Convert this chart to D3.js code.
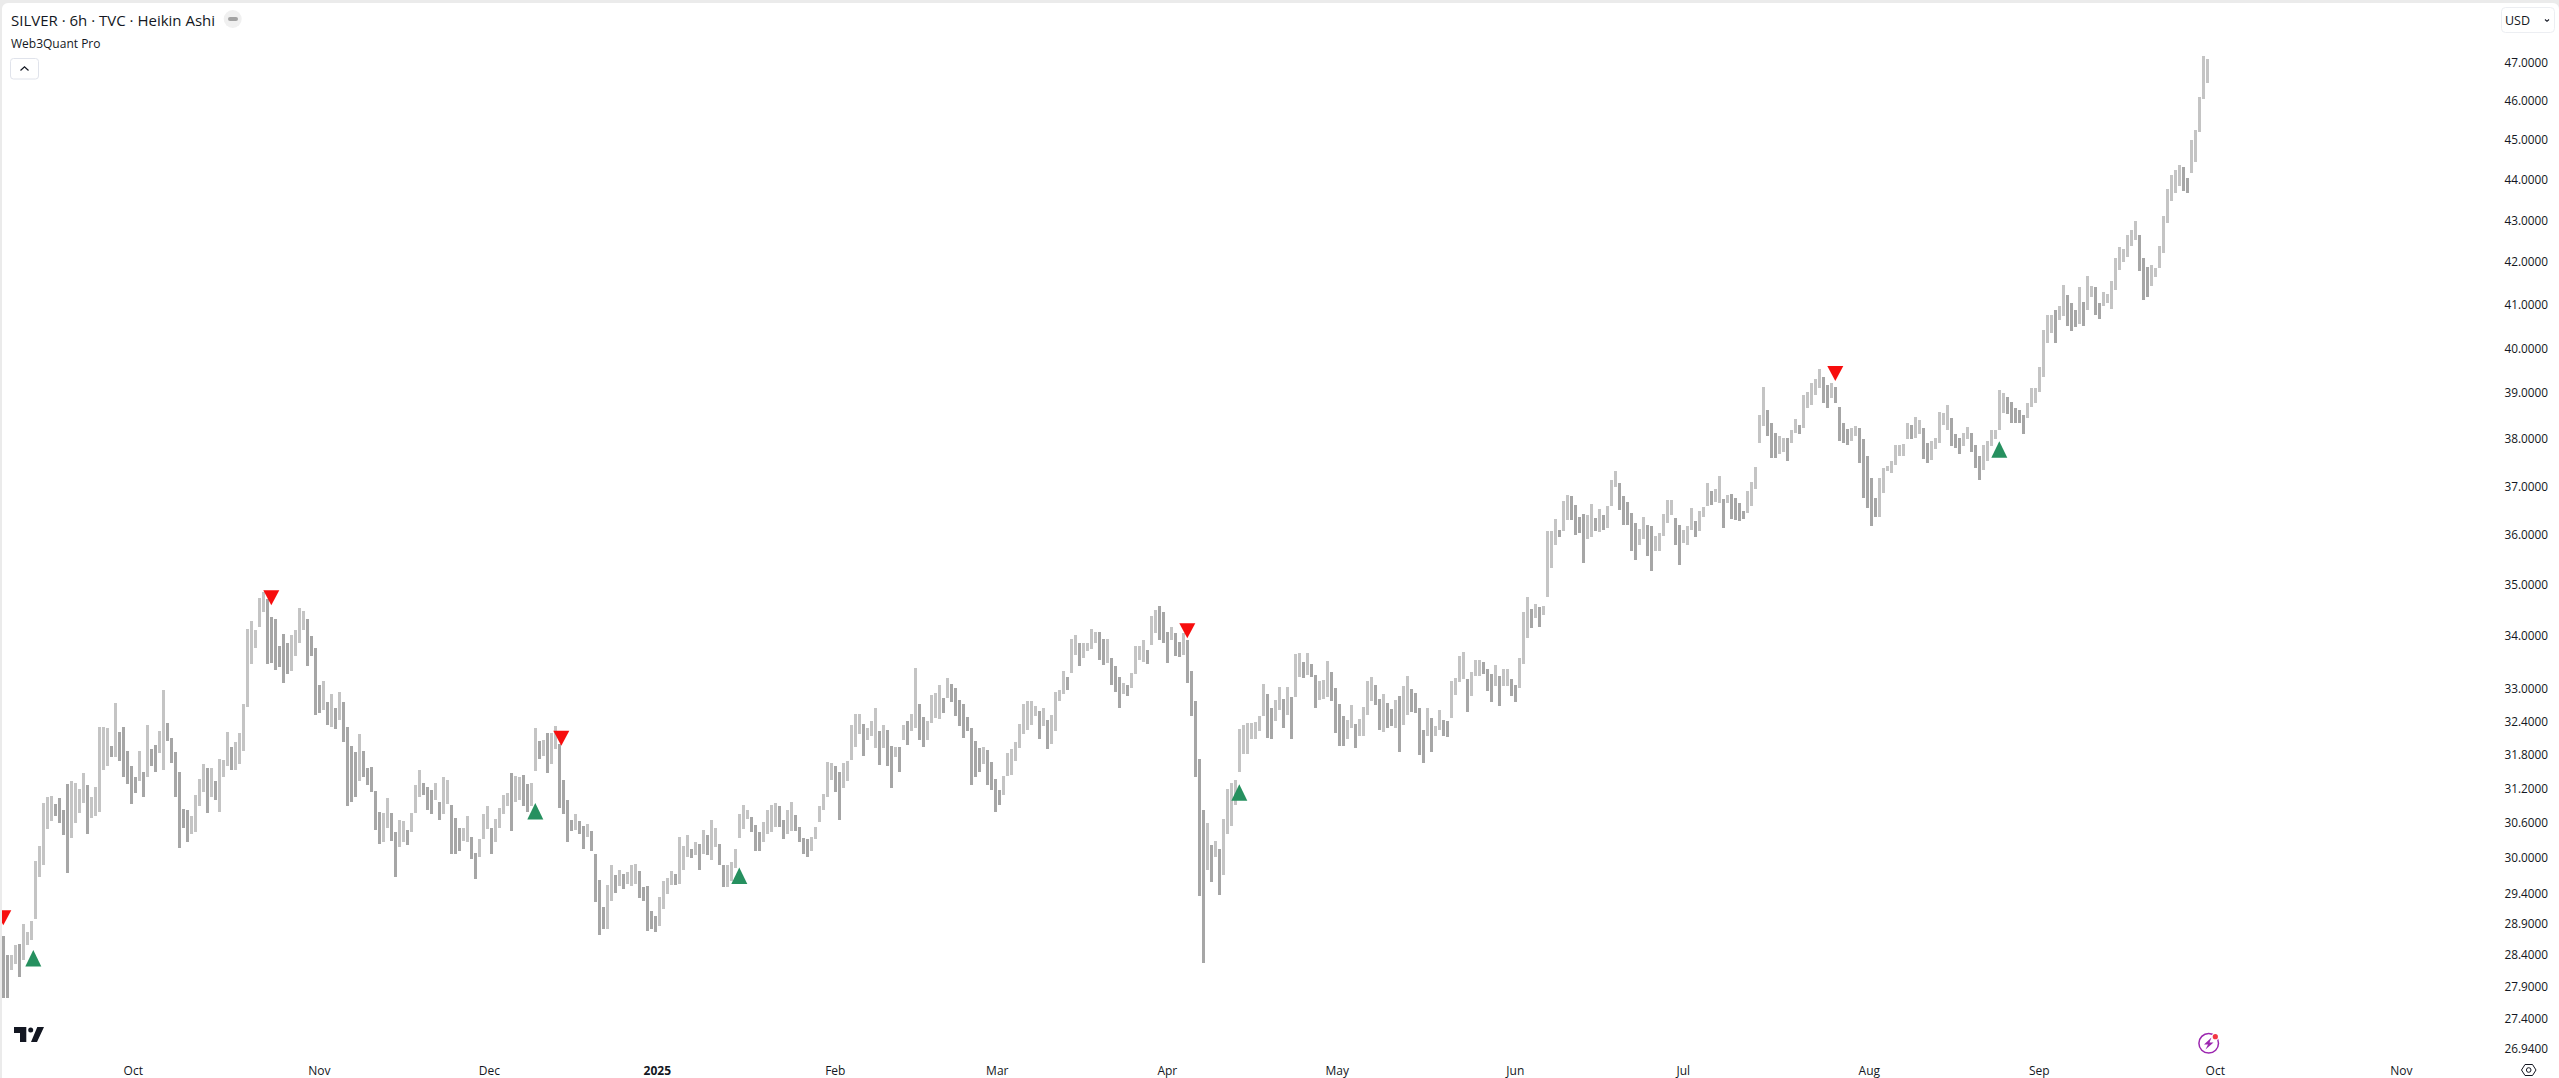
<!DOCTYPE html>
<html><head><meta charset="utf-8">
<script src="https://cdn.jsdelivr.net/npm/d3@7"></script>
<style>html,body{margin:0;padding:0;background:#fff;overflow:hidden}svg{display:block}text{font-family:"Open Sans","Noto Sans",sans-serif;fill:#131722}</style>
</head><body><div id="chart"></div>
<script>
// Every second 6h bar (prices)
const barHighs = [
28.70,28.38,28.38,28.54,28.57,28.89,28.76,28.93,29.94,30.19,30.93,31.03,31.05,30.91,31.02,30.81,31.27,31.32,31.29,31.17,31.45,31.25,31.04,31.21,32.28,32.28,32.26,31.95,32.72,32.20,32.29,31.86,31.58,31.38,31.85,31.47,32.32,31.89,31.96,32.22,32.97,32.36,32.09,31.84,31.48,30.83,30.81,30.70,31.07,31.36,31.62,31.54,31.54,31.32,31.70,31.69,32.19,31.93,32.01,32.17,32.71,34.12,34.27,34.10,34.73,34.85,34.70,34.36,34.31,33.79,34.02,33.85,34.01,34.10,34.54,34.48,34.31,33.98,33.76,33.07,33.14,32.75,32.89,32.64,32.94,32.75,32.29,31.95,31.84,32.15,31.86,31.55,31.56,31.14,30.78,
30.76,31.01,30.76,30.42,30.64,30.62,30.47,30.76,31.25,31.52,31.28,31.21,31.16,31.28,30.95,31.39,31.33,30.90,30.67,30.49,30.50,30.70,30.35,30.07,30.30,30.73,30.88,30.50,30.66,30.84,31.07,31.11,31.46,31.40,31.39,31.43,31.27,31.28,32.27,32.03,32.05,32.17,32.18,32.30,31.97,31.34,30.98,30.63,30.73,30.62,30.53,30.56,30.45,30.06,29.61,29.16,29.53,29.87,29.70,29.78,29.72,29.75,29.87,29.89,29.76,29.50,29.51,29.10,29.01,29.33,29.59,29.64,29.76,29.72,30.34,30.18,30.38,30.13,30.25,30.22,30.46,30.38,30.64,30.49,30.22,29.86,29.87,29.92,30.14,30.74,30.90,30.80,30.69,30.54,30.43,
30.60,30.81,30.90,30.93,30.88,30.63,30.80,30.94,30.72,30.51,30.33,30.30,30.35,30.51,30.88,31.09,31.66,31.63,31.59,31.48,31.63,31.68,32.33,32.53,32.53,32.35,32.27,32.39,32.64,32.21,32.33,32.23,31.94,31.93,31.93,32.33,32.39,32.53,33.38,32.71,32.47,32.39,32.88,32.91,33.06,32.82,33.19,33.08,33.00,32.79,32.71,32.47,32.27,32.03,31.90,31.93,31.87,31.66,31.35,31.15,31.41,31.81,31.88,32.01,32.35,32.70,32.76,32.76,32.68,32.58,32.64,32.42,32.51,32.94,32.97,33.32,33.21,33.94,34.01,33.86,33.86,33.85,34.13,34.07,34.07,33.94,33.93,33.57,33.41,33.22,33.09,33.06,33.28,33.79,33.80,
33.91,33.72,34.37,34.49,34.56,34.46,34.07,34.17,34.05,33.88,34.04,33.91,33.32,32.76,31.70,30.80,30.58,30.20,30.28,30.14,30.66,31.17,31.28,31.34,32.25,32.33,32.36,32.36,32.37,32.48,33.08,32.89,32.63,32.78,33.03,32.81,33.03,32.84,33.64,33.67,33.50,33.67,33.46,33.24,33.14,33.16,33.51,33.30,33.00,32.71,32.49,32.41,32.69,32.35,32.43,32.66,33.14,33.22,33.07,32.81,32.89,32.72,32.61,32.79,
32.85,33.04,33.23,32.98,32.92,32.64,32.23,32.64,32.45,32.30,32.60,32.41,32.39,33.14,33.19,33.60,33.68,33.18,33.30,33.53,33.54,33.49,33.37,33.26,33.43,33.23,33.36,33.36,33.18,33.07,33.56,34.46,34.75,34.51,34.61,34.55,34.56,36.06,36.06,36.31,36.09,36.69,36.81,36.79,36.60,36.36,36.41,36.39,36.62,36.33,36.51,36.39,36.57,37.12,37.30,37.05,36.79,36.67,36.43,36.23,36.10,36.35,36.19,36.16,35.97,36.03,36.42,36.71,36.71,36.33,36.19,36.09,36.17,36.53,36.26,36.47,36.56,37.05,36.88,36.93,37.20,36.72,36.81,36.83,36.74,36.64,36.47,36.88,37.08,37.40,
38.51,39.12,38.62,38.33,38.11,38.05,38.02,38.02,38.18,38.42,38.30,38.95,39.02,39.21,39.30,39.52,39.34,39.17,39.21,39.13,38.69,38.33,38.21,38.23,38.26,38.23,37.98,37.63,37.16,36.74,37.17,37.37,37.42,37.51,37.87,37.85,37.89,38.34,38.30,38.46,38.39,38.23,37.91,37.94,38.02,38.58,38.55,38.73,38.44,38.09,38.02,38.12,38.25,38.12,37.87,37.62,37.85,37.94,38.18,38.19,39.06,38.98,38.91,38.80,38.65,38.62,38.51,38.76,39.10,39.10,39.56,40.40,
40.75,40.75,40.85,40.94,41.43,41.20,41.01,40.86,41.40,41.05,41.65,41.41,41.40,41.03,41.28,41.22,41.53,42.07,42.33,42.28,42.63,42.75,42.96,42.63,42.07,41.87,41.91,41.83,42.37,43.08,43.75,44.10,44.22,44.34,44.30,44.01,44.97,45.23,46.09,47.17,47.09
];
const barLows = [
27.70,27.71,28.15,28.25,28.04,28.31,28.54,28.62,28.97,29.66,29.87,30.48,30.61,30.70,30.58,30.37,29.73,30.32,30.58,30.75,30.93,30.40,30.67,30.70,30.78,31.52,31.58,31.75,31.74,31.68,31.38,31.27,30.91,31.10,31.32,31.03,31.38,31.58,31.47,31.81,31.52,32.03,31.64,31.03,30.15,30.50,30.26,30.40,30.42,30.87,31.13,30.75,31.04,30.98,30.78,31.38,31.58,31.51,31.52,31.61,31.86,32.65,33.46,33.76,34.17,34.45,33.45,33.48,33.35,33.39,33.10,33.26,33.32,33.60,33.85,34.10,33.42,33.60,32.51,32.54,32.60,32.32,32.29,32.25,32.42,32.01,30.87,30.95,31.03,31.32,31.38,31.24,31.13,30.46,30.23,
30.25,30.50,30.28,29.66,30.17,30.25,30.20,30.42,30.76,31.04,31.07,30.80,30.74,30.98,30.63,30.73,30.92,30.06,30.06,30.10,30.28,30.25,29.97,29.63,30.00,30.31,30.48,30.06,30.25,30.50,30.73,30.87,30.45,30.95,30.98,30.87,30.78,30.87,31.49,31.70,31.76,31.45,31.61,31.88,30.84,30.73,30.25,30.45,30.46,30.40,30.14,30.34,30.11,29.25,28.71,28.80,28.80,29.27,29.40,29.52,29.46,29.55,29.52,29.55,29.31,29.27,28.77,28.80,28.75,28.85,29.13,29.38,29.53,29.53,29.55,29.78,30.00,29.98,30.03,29.79,30.06,30.04,29.95,30.17,29.86,29.50,29.50,29.59,29.82,30.32,30.48,30.66,30.42,30.11,30.11,
30.25,30.40,30.42,30.51,30.51,30.30,30.40,30.45,30.45,30.25,30.05,30.00,30.10,30.30,30.60,30.81,31.04,31.34,31.13,30.63,31.19,31.32,31.69,31.92,32.15,31.76,32.05,32.12,31.90,31.60,31.90,31.59,31.20,31.75,31.47,32.05,31.96,32.21,32.27,32.05,31.93,32.05,32.36,32.45,32.44,32.54,32.82,32.74,32.48,32.31,32.09,32.21,31.25,31.38,31.47,31.62,31.25,31.15,30.78,30.90,31.07,31.40,31.43,31.68,31.90,32.15,32.24,32.33,32.48,32.07,32.30,31.88,31.98,32.21,32.76,32.90,32.96,33.28,33.62,33.41,33.57,33.70,33.74,33.85,33.54,33.44,33.48,33.06,32.94,32.64,32.90,32.86,33.00,33.27,33.54,
33.50,33.46,33.82,34.04,33.91,33.85,33.48,33.91,33.60,33.59,33.62,33.09,32.49,31.38,29.34,28.26,29.78,29.58,30.00,29.36,29.69,30.39,30.53,30.90,31.47,31.79,31.79,32.07,32.06,32.21,32.48,32.09,32.07,32.39,32.60,32.27,32.51,32.06,32.84,33.21,33.20,33.24,33.22,32.63,32.78,32.81,32.84,32.77,32.18,31.95,31.94,32.06,32.27,31.91,32.12,32.13,32.51,32.77,32.69,32.23,32.19,32.27,32.31,32.27,
31.84,32.33,32.51,32.57,32.54,31.78,31.63,32.12,31.84,32.13,32.24,32.12,32.10,32.45,32.88,33.11,33.17,32.57,32.86,33.23,33.23,33.26,32.95,32.75,33.04,32.67,33.04,33.04,32.85,32.75,33.01,33.45,33.95,34.14,34.33,34.16,34.40,34.74,35.31,35.78,35.95,36.06,36.29,36.29,35.99,36.02,35.42,35.90,35.95,36.06,36.04,36.09,36.12,36.58,36.98,36.50,36.19,36.19,35.65,35.48,35.78,35.90,35.56,35.25,35.65,35.65,35.97,36.23,36.40,35.78,35.38,35.82,35.78,36.08,35.95,36.06,36.36,36.57,36.60,36.67,36.64,36.12,36.64,36.31,36.28,36.26,36.31,36.43,36.57,36.92,
37.91,38.26,38.05,37.58,37.58,37.66,37.70,37.51,37.91,38.12,38.09,38.23,38.65,38.73,38.95,39.10,38.76,38.65,38.87,38.76,37.94,37.91,37.87,37.94,38.05,37.48,36.74,36.53,36.17,36.36,36.36,36.85,37.30,37.26,37.44,37.62,37.62,37.98,37.98,38.02,38.09,37.56,37.48,37.55,37.77,37.91,38.30,38.19,37.84,37.80,37.66,37.84,37.98,37.70,37.37,37.12,37.33,37.51,37.84,37.98,38.19,38.55,38.53,38.33,38.33,38.33,38.09,38.44,38.69,38.76,39.00,39.34,
40.10,40.32,40.11,40.63,40.71,40.49,40.38,40.47,40.53,40.49,40.85,41.17,40.75,40.66,40.94,41.01,40.88,41.32,41.79,41.99,42.11,42.35,42.51,41.77,41.09,41.17,41.41,41.63,41.83,42.19,42.92,43.44,43.65,43.81,43.69,43.66,44.14,44.43,45.19,46.02,46.44
];
const barsPerSample = 2;
const priceTicks = [47,46,45,44,43,42,41,40,39,38,37,36,35,34,33,32.4,31.8,31.2,30.6,30,29.4,28.9,28.4,27.9,27.4,26.94];
const timeTickLabels = ["Oct","Nov","Dec","2025","Feb","Mar","Apr","May","Jun","Jul","Aug","Sep","Oct","Nov"];
const timeTickBars = [65,158,243,327,416,497,582,667,756,840,933,1018,1106,1199];
const sellBars = [0,134,279,592,916];
const sellPrices = [28.99,34.73,32.08,34.09,39.42];
const buyBars = [15,266,368,618,998];
const buyPrices = [28.33,30.78,29.68,31.11,37.76];

if (barHighs.length !== barLows.length) throw new Error("length mismatch " + barHighs.length + " " + barLows.length);

const W = 2559, H = 1078;
const x = d3.scaleLinear().domain([0,1100]).range([3.3,2203.3]);
const y = d3.scaleLog().domain([47,26.94]).range([62,1047.6]);
const svg = d3.select("#chart").append("svg").attr("width",W).attr("height",H);

// chart bars
const mids = barHighs.map((h,i)=>(h+barLows[i])/2);
svg.append("defs").append("clipPath").attr("id","pane").append("rect").attr("x",2).attr("y",3).attr("width",W).attr("height",H);
const pane = svg.append("g").attr("clip-path","url(#pane)");
pane.append("g").selectAll("rect").data(barHighs).join("rect")
  .attr("x",(d,i)=>Math.round(x(i*barsPerSample))-1)
  .attr("width",3)
  .attr("y",d=>y(d))
  .attr("height",(d,i)=>y(barLows[i])-y(d))
  .attr("shape-rendering","crispEdges")
  .attr("fill",(d,i)=> (i===0||mids[i]<mids[i-1]) ? "#a6a6a6" : "#c4c4c4");

// signals
pane.append("g").selectAll("path.sell").data(sellBars).join("path")
  .attr("transform",(d,i)=>`translate(${x(d)},${y(sellPrices[i])})`)
  .attr("d","M-8,-7.5L8,-7.5L0,7.5Z").attr("fill","#f70d0d");
pane.append("g").selectAll("path.buy").data(buyBars).join("path")
  .attr("transform",(d,i)=>`translate(${x(d)},${y(buyPrices[i])})`)
  .attr("d","M0,-8.5L8,8L-8,8Z").attr("fill","#26905f");

// price axis
svg.append("g").selectAll("text").data(priceTicks).join("text")
  .attr("x",2548).attr("y",d=>y(d)).attr("text-anchor","end").attr("dominant-baseline","central")
  .attr("font-size",11.8).text(d=>d.toFixed(4));

// time axis
svg.append("g").selectAll("text").data(timeTickBars).join("text")
  .attr("x",d=>x(d)).attr("y",1070).attr("text-anchor","middle").attr("dominant-baseline","central")
  .attr("font-size",12).attr("font-weight",(d,i)=>timeTickLabels[i]==="2025"?700:400).text((d,i)=>timeTickLabels[i]);

// frame
svg.append("path").attr("fill","#ebebeb").attr("fill-rule","evenodd")
  .attr("d",`M0,0H${W}V${H}H0Z M2,9 a6,6 0 0 1 6,-6 H${W-6} a6,6 0 0 1 6,6 V${H} H2Z`);

// legend
svg.append("text").attr("x",11).attr("y",19.5).attr("dominant-baseline","central").attr("font-size",15).text("SILVER · 6h · TVC · Heikin Ashi");
svg.append("circle").attr("cx",232.7).attr("cy",19).attr("r",9).attr("fill","#f0f0f0");
svg.append("rect").attr("x",228).attr("y",17).attr("width",10).attr("height",4).attr("rx",2).attr("fill","#a3a3a3");
svg.append("text").attr("x",11).attr("y",43.7).attr("dominant-baseline","central").attr("font-size",12).text("Web3Quant Pro");
svg.append("rect").attr("x",10.5).attr("y",58.5).attr("width",28).attr("height",20.5).attr("rx",3).attr("fill","#fff").attr("stroke","#e0e3eb");
svg.append("path").attr("d","M20.5,70.5L24.5,66.8L28.5,70.5").attr("fill","none").attr("stroke","#131722").attr("stroke-width",1.2);

// currency button
svg.append("rect").attr("x",2501.5).attr("y",7.5).attr("width",53).attr("height",25).attr("rx",4).attr("fill","#fff").attr("stroke","#eceef2");
svg.append("text").attr("x",2505).attr("y",20).attr("dominant-baseline","central").attr("font-size",12.5).text("USD");
svg.append("path").attr("d","M2545,19.5L2547,21.3L2549,19.5").attr("fill","none").attr("stroke","#131722").attr("stroke-width",1.1);

// TradingView mark
svg.append("path").attr("fill","#131722").attr("d","M14,1027H26.3V1042H20V1033H14Z M37.3,1027H44L37,1042H31Z");
svg.append("circle").attr("cx",30.7).attr("cy",1030).attr("r",2.5).attr("fill","#131722");

// bolt icon
svg.append("circle").attr("cx",2208.7).attr("cy",1043.3).attr("r",9.8).attr("fill","#fff").attr("stroke","#9c27b0").attr("stroke-width",1.5);
svg.append("path").attr("fill","#9c27b0").attr("d","M2211.5,1037.5L2204,1044.5H2208L2205.5,1049.5L2213.5,1042.5H2209.5Z");
svg.append("circle").attr("cx",2215.3).attr("cy",1036.7).attr("r",3.6).attr("fill","#fff");
svg.append("circle").attr("cx",2215.3).attr("cy",1036.7).attr("r",2.6).attr("fill","#f23645");

// settings icon
svg.append("path").attr("fill","none").attr("stroke","#131722").attr("d","M2521.5,1070L2525,1064.5H2532.5L2536,1070L2532.5,1075.5H2525Z");
svg.append("circle").attr("cx",2528.7).attr("cy",1070).attr("r",2.3).attr("fill","none").attr("stroke","#131722");
</script></body></html>
